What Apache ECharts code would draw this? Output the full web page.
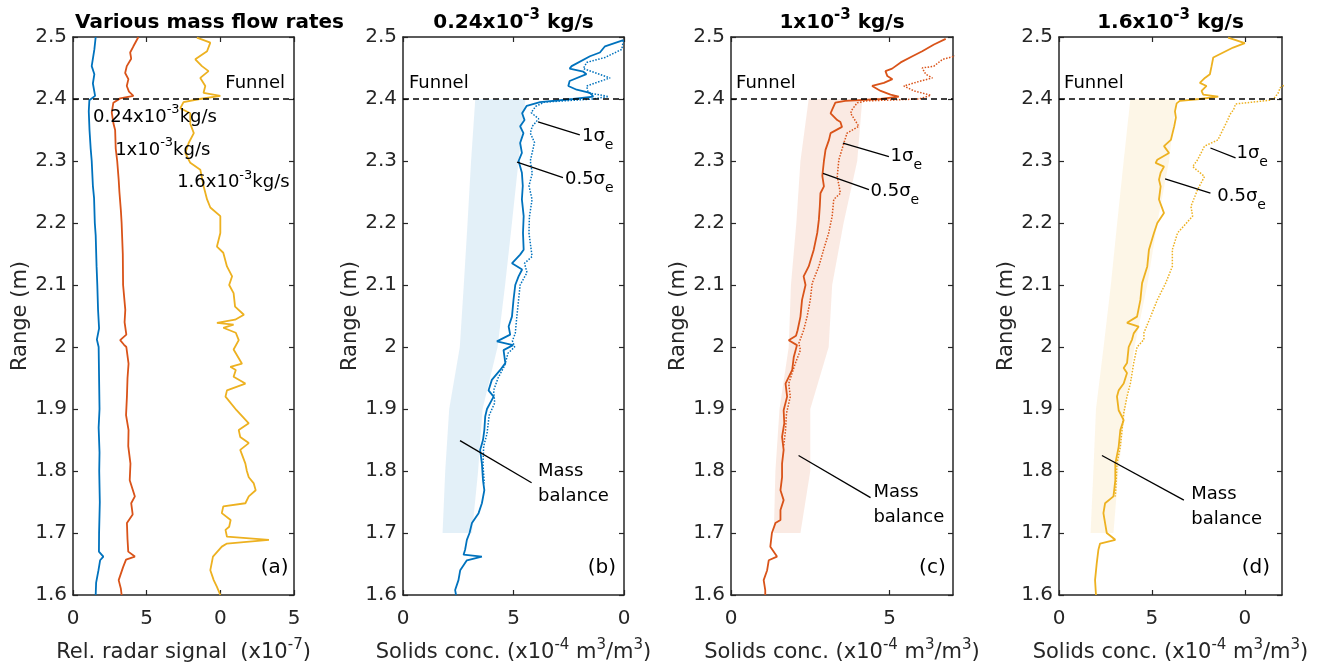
<!DOCTYPE html>
<html>
<head>
<meta charset="utf-8">
<script src="https://cdn.jsdelivr.net/npm/echarts@6/dist/echarts.min.js"></script>
<style>html,body{margin:0;padding:0;background:#fff}#c{width:1322px;height:672px}</style>
</head>
<body>
<div id="c"></div>
<script>
// ===================== DATA =====================
const rangeTicks = [1.6, 1.7, 1.8, 1.9, 2.0, 2.1, 2.2, 2.3, 2.4, 2.5];
const rangeTickLabels = ['1.6', '1.7', '1.8', '1.9', '2', '2.1', '2.2', '2.3', '2.4', '2.5'];
const xTicksA = [0, 5, 10, 15];  const xTickLabelsA = ['0', '5', '0', '5'];
const xTicksB = [0, 5, 10];      const xTickLabelsB = ['0', '5', '0'];
const xTicksC = [0, 5];          const xTickLabelsC = ['0', '5'];
const xTicksD = [0, 5, 10];      const xTickLabelsD = ['0', '5', '0'];
const funnelRange = 2.4;

// (a) relative radar signal [signal, range]
const radar024 = [[1.54,2.50],[1.45,2.48],[1.27,2.453],[1.45,2.44],[1.35,2.425],[1.50,2.405],[1.11,2.398],[1.07,2.38],[1.12,2.35],[1.20,2.32],[1.27,2.30],[1.35,2.26],[1.43,2.24],[1.48,2.20],[1.54,2.18],[1.60,2.13],[1.65,2.10],[1.70,2.06],[1.77,2.03],[1.62,2.012],[1.74,2.00],[1.77,1.95],[1.80,1.90],[1.74,1.87],[1.80,1.83],[1.78,1.80],[1.82,1.75],[1.77,1.70],[1.76,1.67],[2.06,1.662],[1.84,1.656],[1.73,1.64],[1.57,1.62],[1.54,1.60]];
const radar1 = [[4.44,2.50],[4.10,2.485],[3.88,2.475],[3.95,2.465],[3.65,2.453],[3.54,2.442],[3.76,2.432],[3.65,2.421],[3.80,2.412],[4.10,2.405],[3.20,2.401],[2.74,2.394],[2.63,2.378],[2.75,2.36],[2.86,2.35],[2.90,2.32],[3.00,2.30],[3.10,2.27],[3.15,2.25],[3.25,2.22],[3.30,2.20],[3.38,2.15],[3.40,2.10],[3.55,2.06],[3.50,2.04],[3.62,2.02],[3.20,2.011],[3.45,2.004],[3.62,2.00],[3.77,1.973],[3.70,1.95],[3.66,1.92],[3.60,1.89],[3.77,1.866],[3.75,1.84],[3.90,1.812],[3.85,1.785],[4.20,1.759],[3.95,1.748],[4.05,1.73],[3.66,1.716],[3.70,1.69],[3.75,1.67],[4.20,1.662],[3.60,1.657],[3.40,1.645],[3.10,1.624],[3.25,1.61],[3.30,1.60]];
const radar16 = [[8.41,2.499],[9.32,2.491],[9.10,2.477],[8.30,2.464],[8.75,2.453],[9.20,2.445],[8.64,2.434],[8.98,2.421],[8.86,2.41],[10.0,2.405],[8.6,2.40],[7.5,2.395],[7.28,2.385],[7.96,2.377],[7.96,2.36],[8.2,2.345],[7.85,2.329],[7.62,2.313],[7.96,2.297],[8.64,2.286],[8.87,2.259],[9.1,2.238],[9.32,2.225],[10.0,2.211],[10.0,2.184],[9.77,2.162],[10.2,2.152],[10.45,2.13],[10.8,2.114],[10.6,2.10],[10.9,2.087],[11.0,2.065],[11.6,2.052],[11.0,2.044],[9.77,2.039],[10.9,2.036],[10.2,2.031],[11.05,2.023],[11.25,2.011],[10.9,1.996],[11.47,1.973],[10.68,1.968],[11.05,1.963],[10.9,1.952],[11.7,1.941],[10.45,1.93],[10.35,1.92],[11.1,1.898],[11.93,1.877],[11.25,1.866],[11.35,1.855],[11.93,1.845],[11.35,1.834],[11.7,1.812],[11.8,1.80],[11.93,1.79],[12.27,1.78],[12.4,1.769],[11.93,1.759],[11.7,1.748],[10.2,1.743],[10.1,1.732],[10.7,1.721],[10.6,1.71],[10.35,1.705],[10.45,1.694],[13.3,1.689],[10.45,1.683],[10.1,1.678],[9.5,1.662],[9.32,1.64],[9.55,1.624],[9.77,1.613],[10.0,1.60]];

// (b) 0.24e-3 kg/s solids conc. [conc, range]
const conc024Half = [[9.97,2.495],[9.14,2.485],[8.91,2.475],[8.46,2.469],[7.63,2.453],[7.54,2.449],[8.16,2.444],[8.30,2.440],[7.54,2.429],[7.48,2.421],[7.86,2.415],[8.46,2.41],[8.61,2.404],[7.70,2.40],[6.20,2.395],[5.60,2.389],[5.39,2.377],[5.50,2.366],[5.30,2.356],[5.45,2.345],[5.30,2.329],[5.38,2.313],[5.23,2.30],[5.38,2.281],[5.42,2.26],[5.38,2.238],[5.46,2.211],[5.43,2.184],[5.46,2.157],[5.30,2.149],[4.93,2.135],[5.39,2.125],[5.23,2.114],[5.08,2.10],[5.00,2.076],[4.93,2.049],[4.78,2.033],[4.85,2.02],[4.25,2.009],[4.98,2.003],[4.55,1.995],[4.63,1.974],[4.40,1.963],[4.02,1.947],[3.87,1.93],[4.10,1.92],[3.80,1.90],[3.72,1.888],[3.68,1.866],[3.62,1.85],[3.49,1.834],[3.57,1.812],[3.62,1.785],[3.68,1.769],[3.57,1.748],[3.42,1.732],[3.12,1.716],[3.01,1.70],[2.89,1.689],[2.81,1.673],[2.74,1.665],[3.57,1.662],[2.89,1.656],[2.59,1.64],[2.51,1.624],[2.36,1.608],[2.40,1.60]];
const conc024One = [[9.97,2.494],[9.90,2.48],[9.14,2.467],[8.31,2.459],[8.16,2.449],[9.37,2.434],[8.31,2.421],[8.38,2.41],[9.30,2.404],[8.60,2.40],[6.40,2.395],[6.00,2.388],[5.80,2.378],[6.14,2.368],[5.85,2.356],[5.76,2.345],[5.95,2.33],[5.76,2.30],[5.85,2.28],[5.70,2.26],[5.84,2.238],[5.72,2.21],[5.70,2.184],[5.84,2.146],[5.50,2.135],[5.61,2.12],[5.30,2.10],[5.23,2.076],[5.15,2.049],[5.08,2.022],[4.95,2.01],[5.05,2.0],[4.75,1.99],[4.60,1.97],[4.30,1.95],[4.10,1.93],[4.15,1.91],[3.90,1.89],[3.80,1.86],[3.65,1.84],[3.62,1.81],[3.68,1.78]];

// (c) 1e-3 kg/s
const conc1Half = [[6.77,2.497],[6.40,2.488],[6.03,2.477],[5.72,2.469],[5.35,2.459],[5.08,2.449],[4.87,2.445],[4.93,2.437],[5.09,2.432],[4.82,2.426],[4.45,2.421],[4.72,2.413],[5.03,2.407],[5.29,2.404],[4.72,2.40],[3.60,2.397],[3.29,2.394],[3.19,2.383],[3.14,2.377],[3.35,2.366],[3.45,2.363],[3.50,2.355],[3.14,2.345],[3.09,2.334],[2.98,2.318],[2.93,2.30],[2.88,2.276],[2.93,2.259],[2.82,2.248],[2.80,2.227],[2.77,2.205],[2.72,2.184],[2.61,2.157],[2.45,2.13],[2.29,2.114],[2.35,2.10],[2.24,2.076],[2.19,2.049],[2.10,2.027],[2.05,2.018],[1.82,2.011],[2.08,2.003],[1.98,1.984],[1.93,1.963],[1.72,1.941],[1.77,1.92],[1.66,1.898],[1.68,1.877],[1.61,1.855],[1.66,1.834],[1.61,1.812],[1.61,1.79],[1.56,1.769],[1.66,1.753],[1.56,1.737],[1.56,1.721],[1.40,1.716],[1.29,1.70],[1.24,1.678],[1.45,1.662],[1.19,1.656],[1.14,1.64],[1.03,1.624],[1.08,1.608],[1.08,1.60]];
const conc1One = [[7.10,2.470],[6.98,2.468],[6.67,2.464],[6.40,2.453],[6.03,2.45],[6.14,2.44],[6.35,2.434],[5.98,2.429],[5.45,2.421],[5.77,2.413],[6.30,2.406],[5.93,2.40],[4.29,2.397],[3.98,2.394],[3.82,2.383],[3.77,2.377],[4.03,2.356],[3.66,2.345],[3.56,2.329],[3.40,2.302],[3.35,2.275],[3.45,2.248],[3.24,2.238],[3.19,2.211],[3.08,2.184],[2.92,2.157],[2.77,2.13],[2.56,2.103],[2.50,2.076],[2.40,2.049],[2.29,2.027],[2.14,2.006],[2.19,1.995],[2.03,1.974],[1.82,1.941],[1.87,1.92],[1.75,1.893],[1.72,1.866],[1.66,1.84]];

// (d) 1.6e-3 kg/s
const conc16Half = [[9.10,2.499],[10.0,2.49],[9.37,2.483],[8.30,2.467],[8.21,2.453],[8.12,2.44],[7.85,2.434],[7.58,2.426],[7.94,2.421],[7.67,2.413],[7.76,2.407],[8.57,2.404],[7.58,2.40],[6.50,2.397],[6.33,2.393],[6.24,2.38],[6.29,2.37],[6.20,2.356],[6.11,2.345],[6.02,2.334],[5.65,2.324],[5.92,2.313],[5.29,2.302],[5.20,2.297],[5.65,2.291],[5.47,2.281],[5.38,2.27],[5.47,2.259],[5.38,2.238],[5.65,2.216],[5.29,2.20],[5.11,2.184],[4.84,2.157],[4.75,2.13],[4.47,2.103],[4.38,2.076],[4.20,2.049],[3.66,2.039],[4.29,2.033],[4.02,2.022],[3.93,2.012],[3.75,2.0],[3.66,1.974],[3.48,1.966],[3.66,1.958],[3.48,1.941],[3.21,1.93],[3.12,1.92],[3.21,1.898],[3.48,1.882],[3.30,1.866],[3.21,1.839],[3.03,1.812],[3.03,1.785],[2.93,1.759],[2.48,1.748],[2.39,1.732],[2.48,1.716],[2.57,1.70],[3.03,1.689],[2.21,1.683],[2.12,1.673],[2.03,1.651],[1.94,1.624],[1.99,1.60]];
const conc16One = [[12.5,2.430],[11.90,2.418],[11.80,2.41],[11.60,2.402],[11.34,2.398],[9.50,2.392],[9.40,2.383],[9.20,2.375],[9.09,2.367],[8.73,2.345],[8.55,2.334],[7.83,2.324],[7.46,2.302],[7.19,2.291],[7.83,2.275],[7.46,2.254],[7.10,2.227],[7.19,2.211],[6.38,2.184],[6.10,2.157],[6.10,2.13],[5.74,2.103],[5.29,2.076],[4.93,2.049],[4.57,2.023],[4.57,2.012],[4.20,2.0],[4.02,1.974],[3.84,1.941],[3.66,1.92],[3.48,1.893],[3.39,1.866],[3.30,1.839],[3.12,1.812],[3.08,1.785],[3.03,1.759]];

// mass balance bands
const massBalRange = [1.7, 1.8, 1.9, 2.0, 2.1, 2.2, 2.3, 2.4];
const massBal024Lo = [1.79, 1.91, 2.09, 2.57, 2.75, 2.92, 3.08, 3.27];
const massBal024Hi = [3.12, 3.40, 3.60, 4.28, 4.62, 4.93, 5.23, 5.54];
const massBal1Lo   = [1.35, 1.40, 1.53, 1.82, 1.89, 2.06, 2.19, 2.45];
const massBal1Hi   = [2.19, 2.50, 2.50, 3.08, 3.19, 3.55, 3.98, 4.14];
const massBal16Lo  = [1.70, 1.85, 1.99, 2.40, 2.79, 3.13, 3.48, 3.84];
const massBal16Hi  = [2.93, 3.20, 3.57, 4.06, 4.75, 5.29, 5.92, 6.29];

// ===================== STYLE / LAYOUT =====================
const FONT = 'DejaVu Sans';
const TXT = '#262626';
const AX = '#262626';
const C_BLUE = '#0072BD', C_RED = '#D95319', C_YEL = '#EDB120';
const GRID_TOP = 37, GRID_H = 558;

function rs(size, supSize, lh) {
  return {
    n:   {fontFamily: FONT, fontSize: size, color: '#000', fill: '#000', lineHeight: lh, verticalAlign: 'middle'},
    sup: {fontFamily: FONT, fontSize: supSize, color: '#000', fill: '#000', lineHeight: supSize, verticalAlign: 'top'},
    sub: {fontFamily: FONT, fontSize: supSize, color: '#000', fill: '#000', lineHeight: supSize, verticalAlign: 'bottom'}
  };
}
const nameRich = {
  n:   {fontFamily: FONT, fontSize: 21, color: TXT, lineHeight: 30, verticalAlign: 'middle'},
  sup: {fontFamily: FONT, fontSize: 15, color: TXT, lineHeight: 15, verticalAlign: 'top'}
};
const concName = '{n|Solids conc. (x10}{sup|-4}{n| m}{sup|3}{n|/m}{sup|3}{n|)}';

const panels = [
  {left: 73,   width: 221, max: 15, ticks: xTicksA, labels: xTickLabelsA, name: '{n|Rel. radar signal  (x10}{sup|-7}{n|)}'},
  {left: 403,  width: 221, max: 10, ticks: xTicksB, labels: xTickLabelsB, name: concName},
  {left: 731,  width: 222, max: 7,  ticks: xTicksC, labels: xTickLabelsC, name: concName},
  {left: 1059, width: 223, max: 12, ticks: xTicksD, labels: xTickLabelsD, name: concName}
];

function tickFmt(values, labels) {
  return v => { const i = values.findIndex(t => Math.abs(t - v) < 1e-6); return i >= 0 ? labels[i] : ''; };
}

const grids = [], xAxes = [], yAxes = [], series = [];
panels.forEach((p, gi) => {
  grids.push({left: p.left, top: GRID_TOP, width: p.width, height: GRID_H, show: false, containLabel: false, outerBoundsMode: 'none'});
  const line = {show: true, onZero: false, lineStyle: {color: AX, width: 1.5}};
  const tickX = {show: true, inside: true, length: 5, customValues: p.ticks, lineStyle: {color: AX, width: 1.2}};
  const tickY = {show: true, inside: true, length: 5, customValues: rangeTicks, lineStyle: {color: AX, width: 1.2}};
  xAxes.push({type: 'value', gridIndex: gi, position: 'bottom', min: 0, max: p.max,
    axisLine: line, axisTick: tickX, splitLine: {show: false},
    axisLabel: {customValues: p.ticks, formatter: tickFmt(p.ticks, p.labels), fontFamily: FONT, fontSize: 20, color: TXT, margin: 14},
    name: p.name, nameLocation: 'middle', nameGap: 43, nameTextStyle: {fontFamily: FONT, fontSize: 21, color: TXT, rich: nameRich}});
  xAxes.push({type: 'value', gridIndex: gi, position: 'top', min: 0, max: p.max,
    axisLine: line, axisTick: tickX, splitLine: {show: false}, axisLabel: {show: false}});
  yAxes.push({type: 'value', gridIndex: gi, position: 'left', min: 1.6, max: 2.5,
    axisLine: line, axisTick: tickY, splitLine: {show: false},
    axisLabel: {customValues: rangeTicks, formatter: tickFmt(rangeTicks, rangeTickLabels), fontFamily: FONT, fontSize: 20, color: TXT, margin: 6},
    name: 'Range (m)', nameLocation: 'middle', nameGap: 40, nameRotate: 90, nameTextStyle: {fontFamily: FONT, fontSize: 21, color: TXT}});
  yAxes.push({type: 'value', gridIndex: gi, position: 'right', min: 1.6, max: 2.5,
    axisLine: line, axisTick: tickY, splitLine: {show: false}, axisLabel: {show: false}});
});

const funnelMark = {
  silent: true, symbol: ['none', 'none'], label: {show: false},
  lineStyle: {type: [6, 4], color: '#000', width: 1.5}, data: [{yAxis: funnelRange}]
};

function lineSeries(gi, data, color, dotted, withFunnel) {
  const s = {type: 'line', xAxisIndex: 2 * gi, yAxisIndex: 2 * gi, data: data, symbol: 'none', showSymbol: false,
    silent: true, z: dotted ? 3 : 4,
    lineStyle: {color: color, width: dotted ? 1.5 : 1.8, type: dotted ? [1.5, 1.5] : 'solid'}};
  if (withFunnel) s.markLine = funnelMark;
  return s;
}
function bandSeries(gi, lo, hi, color) {
  return {type: 'custom', xAxisIndex: 2 * gi, yAxisIndex: 2 * gi, silent: true, z: 1,
    data: [[lo[0], massBalRange[0]]],
    renderItem: (params, api) => {
      const pts = [];
      for (let i = 0; i < massBalRange.length; i++) pts.push(api.coord([lo[i], massBalRange[i]]));
      for (let i = massBalRange.length - 1; i >= 0; i--) pts.push(api.coord([hi[i], massBalRange[i]]));
      return {type: 'polygon', shape: {points: pts}, style: {fill: color}};
    }};
}
function leaderSeries(gi, segs) {
  return {type: 'custom', xAxisIndex: 2 * gi, yAxisIndex: 2 * gi, silent: true, z: 6,
    data: segs, encode: {x: [0, 2], y: [1, 3]},
    renderItem: (params, api) => {
      const a = api.coord([api.value(0), api.value(1)]);
      const b = api.coord([api.value(2), api.value(3)]);
      return {type: 'line', shape: {x1: a[0], y1: a[1], x2: b[0], y2: b[1]}, style: {stroke: '#000', lineWidth: 1.3}};
    }};
}
function textSeries(gi, notes) {
  return {type: 'custom', xAxisIndex: 2 * gi, yAxisIndex: 2 * gi, silent: true, z: 7,
    data: notes.map(n => [n.x, n.y]),
    renderItem: (params, api) => {
      const n = notes[params.dataIndex];
      const p = api.coord([api.value(0), api.value(1)]);
      const size = n.size || 18;
      return {type: 'text', x: p[0], y: p[1], style: {
        text: n.t, rich: n.rich, fontFamily: FONT, fontSize: size, fill: '#000',
        lineHeight: n.lh || undefined,
        align: n.align || 'left', verticalAlign: 'middle', textAlign: n.align || 'left', textVerticalAlign: 'middle'}};
    }};
}

const supRich = rs(18, 13, 28);
const sigRich = rs(18, 14, 32);
const sig1 = '{n|1σ}{sub|e}';
const sig05 = '{n|0.5σ}{sub|e}';

// ---- panel (a)
series.push(lineSeries(0, radar024, C_BLUE, false, true));
series.push(lineSeries(0, radar1, C_RED, false, false));
series.push(lineSeries(0, radar16, C_YEL, false, false));
series.push(textSeries(0, [
  {t: 'Funnel', x: 10.34, y: 2.426},
  {t: '{n|0.24x10}{sup|-3}{n|kg/s}', rich: supRich, x: 1.36, y: 2.37},
  {t: '{n|1x10}{sup|-3}{n|kg/s}', rich: supRich, x: 2.86, y: 2.318},
  {t: '{n|1.6x10}{sup|-3}{n|kg/s}', rich: supRich, x: 7.07, y: 2.265},
  {t: '(a)', x: 14.63, y: 1.644, align: 'right', size: 20}
]));

// ---- panel (b)
series.push(bandSeries(1, massBal024Lo, massBal024Hi, 'rgba(0,114,189,0.11)'));
series.push(lineSeries(1, conc024One, C_BLUE, true, false));
series.push(lineSeries(1, conc024Half, C_BLUE, false, true));
series.push(leaderSeries(1, [[6.11, 2.363, 8.0, 2.342], [5.16, 2.298, 7.24, 2.273], [2.58, 1.849, 5.82, 1.781]]));
series.push(textSeries(1, [
  {t: 'Funnel', x: 0.27, y: 2.426},
  {t: sig1, rich: sigRich, x: 8.1, y: 2.340},
  {t: sig05, rich: sigRich, x: 7.33, y: 2.270},
  {t: 'Mass\nbalance', lh: 25, x: 6.11, y: 1.779},
  {t: '(b)', x: 9.64, y: 1.644, align: 'right', size: 20}
]));

// ---- panel (c)
series.push(bandSeries(2, massBal1Lo, massBal1Hi, 'rgba(217,83,25,0.12)'));
series.push(lineSeries(2, conc1One, C_RED, true, false));
series.push(lineSeries(2, conc1Half, C_RED, false, true));
series.push(leaderSeries(2, [[3.53, 2.329, 4.98, 2.307], [2.90, 2.280, 4.35, 2.254], [2.13, 1.825, 4.40, 1.757]]));
series.push(textSeries(2, [
  {t: 'Funnel', x: 0.16, y: 2.426},
  {t: sig1, rich: sigRich, x: 5.03, y: 2.307},
  {t: sig05, rich: sigRich, x: 4.40, y: 2.251},
  {t: 'Mass\nbalance', lh: 25, x: 4.49, y: 1.745},
  {t: '(c)', x: 6.77, y: 1.644, align: 'right', size: 20}
]));

// ---- panel (d)
series.push(bandSeries(3, massBal16Lo, massBal16Hi, 'rgba(237,177,32,0.11)'));
series.push(lineSeries(3, conc16One, C_YEL, true, false));
series.push(lineSeries(3, conc16Half, C_YEL, false, true));
series.push(leaderSeries(3, [[8.15, 2.321, 9.50, 2.305], [5.71, 2.271, 8.15, 2.248], [2.31, 1.825, 6.72, 1.753]]));
series.push(textSeries(3, [
  {t: 'Funnel', x: 0.27, y: 2.426},
  {t: sig1, rich: sigRich, x: 9.55, y: 2.313},
  {t: sig05, rich: sigRich, x: 8.52, y: 2.243},
  {t: 'Mass\nbalance', lh: 25, x: 7.12, y: 1.742},
  {t: '(d)', x: 11.36, y: 1.644, align: 'right', size: 20}
]));

// ---- titles
const titleRich = {
  b:  {fontFamily: FONT, fontWeight: 'bold', fontSize: 20, fill: '#000', color: '#000', lineHeight: 30, verticalAlign: 'middle'},
  bs: {fontFamily: FONT, fontWeight: 'bold', fontSize: 15, fill: '#000', color: '#000', lineHeight: 15, verticalAlign: 'top'}
};
function titleEl(x, text, align) {
  return {type: 'text', x: x, y: 23, silent: true, style: {text: text, rich: titleRich, fontFamily: FONT, fontWeight: 'bold', fontSize: 20,
    fill: '#000', align: align, verticalAlign: 'middle', textAlign: align, textVerticalAlign: 'middle'}};
}
const graphics = [
  titleEl(75, '{b|Various mass flow rates}', 'left'),
  titleEl(panels[1].left + panels[1].width / 2, '{b|0.24x10}{bs|-3}{b| kg/s}', 'center'),
  titleEl(panels[2].left + panels[2].width / 2, '{b|1x10}{bs|-3}{b| kg/s}', 'center'),
  titleEl(panels[3].left + panels[3].width / 2, '{b|1.6x10}{bs|-3}{b| kg/s}', 'center')
];

const chart = echarts.init(document.getElementById('c'), null, {renderer: 'canvas'});
chart.setOption({
  animation: false,
  backgroundColor: '#fff',
  grid: grids, xAxis: xAxes, yAxis: yAxes, series: series, graphic: graphics
});
</script>
</body>
</html>
